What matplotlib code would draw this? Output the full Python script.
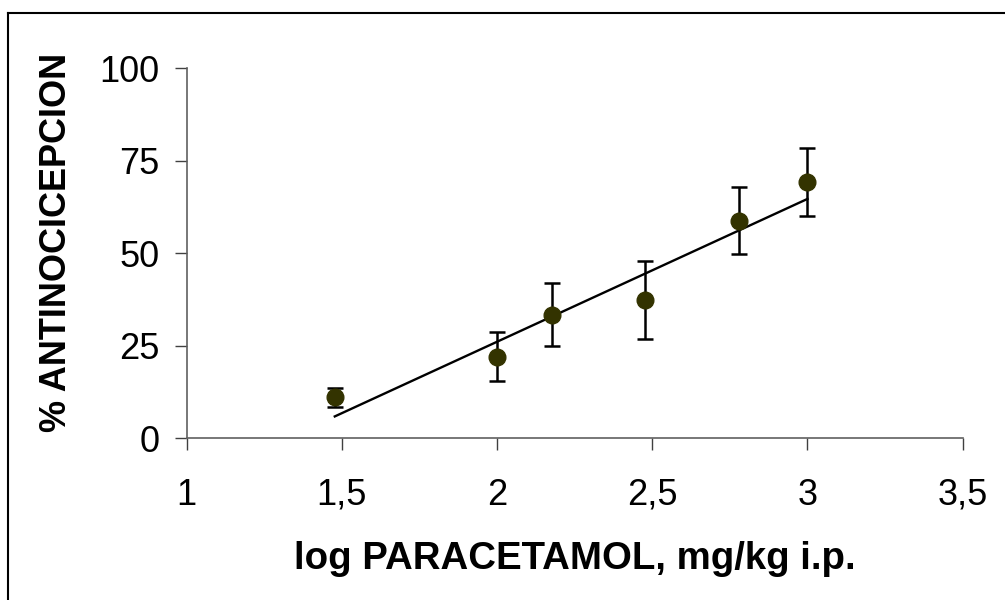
import numpy as np
import matplotlib
matplotlib.use('Agg')
import matplotlib.pyplot as plt
from matplotlib.lines import Line2D

# log dose (mg/kg) vs % antinociception, mean +/- error
log_dose = [1.477, 2.0, 2.176, 2.477, 2.778, 3.0]
antinoc = [11.1, 22.1, 33.4, 37.3, 58.8, 69.2]
err = [2.6, 6.6, 8.5, 10.5, 9.0, 9.2]

# regression line
slope = 38.6
intercept = -51.1

xticks = [1, 1.5, 2, 2.5, 3, 3.5]
xticklabels = ['1', '1,5', '2', '2,5', '3', '3,5']
yticks = [0, 25, 50, 75, 100]

plt.rcParams['font.family'] = ['Liberation Sans', 'DejaVu Sans']

fig = plt.figure(figsize=(10.05, 6), dpi=100)
ax = fig.add_axes([0.1858, 0.2695, 0.7721, 0.6167])

ax.errorbar(log_dose, antinoc, yerr=err, fmt='o', ms=12, color='#333300',
            ecolor='black', elinewidth=1.8, capsize=6, capthick=1.8, zorder=3)

xl = np.array([min(log_dose), max(log_dose)])
ax.plot(xl, intercept + slope * xl, color='black', lw=1.7, zorder=2)

ax.set_xlim(1, 3.5)
ax.set_ylim(0, 100)
ax.set_xticks(xticks)
ax.set_xticklabels(xticklabels)
ax.set_yticks(yticks)

for s in ['top', 'right']:
    ax.spines[s].set_visible(False)
for s in ['left', 'bottom']:
    ax.spines[s].set_color('#606060')
    ax.spines[s].set_linewidth(1.2)

ax.tick_params(axis='both', direction='out', length=8.5, width=1, color='#404040',
               labelsize=26)
ax.tick_params(axis='y', pad=11)
ax.tick_params(axis='x', pad=20)

ax.set_xlabel('log PARACETAMOL, mg/kg i.p.', fontsize=27.6, fontweight='bold')
ax.set_ylabel('% ANTINOCICEPCION', fontsize=26, fontweight='bold')
ax.xaxis.set_label_coords(0.5, -0.277)
ax.yaxis.set_label_coords(-0.145, 0.53)

# frame around the picture (top and left edges only)
fig.add_artist(Line2D([8 / 1005, 1], [1 - 13 / 600, 1 - 13 / 600], color='black', lw=1.5))
fig.add_artist(Line2D([8 / 1005, 8 / 1005], [0, 1 - 13 / 600], color='black', lw=1.5))

fig.savefig('out.png', dpi=100)
